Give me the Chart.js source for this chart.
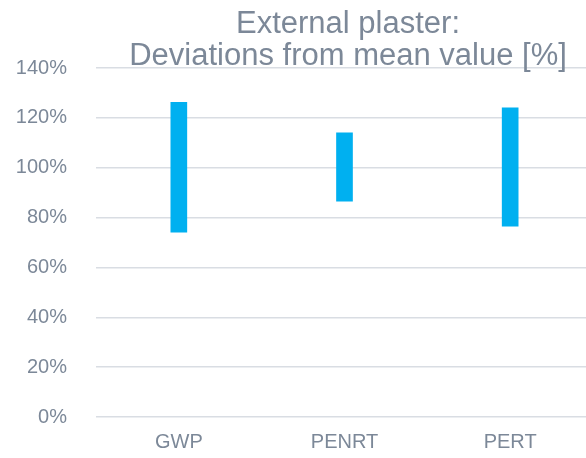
<!DOCTYPE html>
<html>
<head>
<meta charset="utf-8">
<script src="https://cdn.jsdelivr.net/npm/chart.js@4"></script>
<style>
  html, body { margin: 0; padding: 0; overflow: hidden; background: #ffffff; }
  #wrap { width: 600px; height: 458px; }
</style>
</head>
<body>
<div id="wrap"><canvas id="c" width="600" height="458"></canvas></div>
<script>
const categories = ["GWP", "PENRT", "PERT"];
const minValues = [74.1, 86.6, 76.6];
const maxValues = [126.2, 114.0, 124.0];
const titleLines = ["External plaster:", "Deviations from mean value [%]"];
const yMin = 0, yMax = 140, yStep = 20;

const textColor = "#7c8898";
const fontFamily = "'Liberation Sans', Arial, sans-serif";

const titlePlugin = {
  id: "overlayTitle",
  afterDraw(chart) {
    const ctx = chart.ctx;
    ctx.save();
    ctx.fillStyle = textColor;
    ctx.font = "31px " + fontFamily;
    ctx.textAlign = "center";
    ctx.textBaseline = "alphabetic";
    const cx = 348;
    ctx.fillText(titleLines[0], cx, 33);
    ctx.fillText(titleLines[1], cx, 65);
    ctx.restore();
  }
};

new Chart(document.getElementById("c"), {
  type: "bar",
  data: {
    labels: categories,
    datasets: [{
      data: categories.map((_, i) => [minValues[i], maxValues[i]]),
      backgroundColor: "#00b0f0",
      borderWidth: 0,
      barThickness: 16
    }]
  },
  options: {
    responsive: false,
    animation: false,
    layout: { padding: { top: 68, right: 7, left: 0, bottom: -12 } },
    plugins: { legend: { display: false }, title: { display: false }, tooltip: { enabled: false } },
    scales: {
      x: {
        grid: { display: false, drawTicks: false },
        border: { display: false },
        ticks: { color: textColor, font: { size: 20, family: fontFamily }, padding: 13 }
      },
      y: {
        min: yMin, max: yMax,
        grid: { color: "#d9dde3", lineWidth: 1.5, drawTicks: false },
        border: { display: false },
        ticks: { stepSize: yStep, color: textColor, font: { size: 20, family: fontFamily }, padding: 29,
                 callback: v => v + "%" },
        afterFit(s) { s.width = 96; }
      }
    }
  },
  plugins: [titlePlugin]
});
</script>
</body>
</html>
